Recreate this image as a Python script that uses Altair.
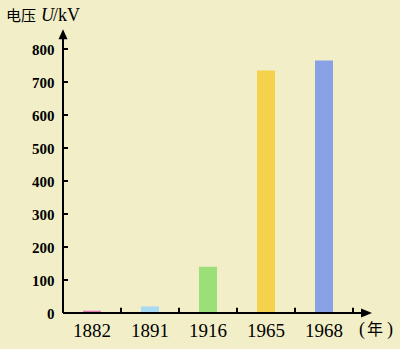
import altair as alt
import pandas as pd

years = ["1882", "1891", "1916", "1965", "1968"]
voltages = [7, 20, 140, 735, 765]
bar_colors = ["#e07ab4", "#a8dbf2", "#9cdf78", "#f6d24c", "#88a2e5"]
y_ticks = [0, 100, 200, 300, 400, 500, 600, 700, 800]

W, H = 290, 264
SERIF = "Liberation Serif"
CJK = "Noto Sans CJK SC"

df = pd.DataFrame({"year": years, "voltage": voltages})
tick_df = pd.DataFrame({"v": y_ticks})
one = pd.DataFrame({"k": [0]})

xs = alt.Scale(domain=years, paddingInner=0, paddingOuter=0)
ys = alt.Scale(domain=[0, 800], nice=False, zero=True)

x_axis = alt.Axis(title=None, ticks=False, tickSize=0, domain=False, grid=False,
                  labelPadding=8, labelFont=SERIF, labelFontSize=19,
                  labelColor="black", labelAngle=0)
y_axis = alt.Axis(title=None, values=y_ticks, ticks=False, tickSize=0, domain=False,
                  grid=False, labelPadding=9, labelFont=SERIF, labelFontSize=15,
                  labelFontWeight="bold", labelColor="black")

bars = alt.Chart(df).mark_bar(size=18).encode(
    x=alt.X("year:N", scale=xs, sort=years, axis=x_axis),
    y=alt.Y("voltage:Q", scale=ys, axis=y_axis),
    color=alt.Color("year:N", scale=alt.Scale(domain=years, range=bar_colors), legend=None),
)

# axis lines
y_line = alt.Chart(one).mark_rule(color="black", strokeWidth=2).encode(
    x=alt.value(0), y=alt.YDatum(0, scale=ys, axis=y_axis), y2=alt.datum(830))
x_line = alt.Chart(one).mark_rule(color="black", strokeWidth=2).encode(
    x=alt.value(0), x2=alt.value(300), y=alt.YDatum(0, scale=ys, axis=y_axis))

# inward ticks
y_tick_marks = alt.Chart(tick_df).mark_rule(color="black", strokeWidth=2).encode(
    y=alt.Y("v:Q", scale=ys, axis=y_axis), x=alt.value(0), x2=alt.value(5))
x_tick_marks = alt.Chart(df).mark_rule(color="black", strokeWidth=2).encode(
    x=alt.X("year:N", scale=xs, sort=years, bandPosition=1, axis=x_axis),
    y=alt.YDatum(0, scale=ys, axis=y_axis), y2=alt.datum(16))

# arrow heads
y_arrow = alt.Chart(one).mark_point(shape="M0,-1L0.9,1L-0.9,1Z", filled=True, size=100,
                                    color="black", opacity=1).encode(
    x=alt.value(0), y=alt.YDatum(845, scale=ys, axis=y_axis))
x_arrow = alt.Chart(one).mark_point(shape="M1,0L-1,-0.8L-1,0.8Z", filled=True, size=121,
                                    color="black", opacity=1).encode(
    x=alt.value(303.5), y=alt.YDatum(0, scale=ys, axis=y_axis))

# axis titles
t1 = alt.Chart(one).mark_text(text="电压", font=CJK, fontSize=15, align="left",
                              baseline="alphabetic", color="black").encode(
    x=alt.value(-57), y=alt.value(-28))
t2 = alt.Chart(one).mark_text(text="U", font=SERIF, fontSize=18, fontStyle="italic",
                              align="left", baseline="alphabetic", color="black").encode(
    x=alt.value(-22), y=alt.value(-28))
t3 = alt.Chart(one).mark_text(text="/kV", font=SERIF, fontSize=18, align="left",
                              baseline="alphabetic", color="black").encode(
    x=alt.value(-10), y=alt.value(-28))
t4a = alt.Chart(one).mark_text(text="(", font=SERIF, fontSize=18, align="left",
                               baseline="middle", color="black").encode(
    x=alt.value(296), y=alt.value(281))
t4b = alt.Chart(one).mark_text(text="年", font=CJK, fontSize=16, align="left",
                               baseline="middle", color="black").encode(
    x=alt.value(304), y=alt.value(281))
t4c = alt.Chart(one).mark_text(text=")", font=SERIF, fontSize=18, align="left",
                               baseline="middle", color="black").encode(
    x=alt.value(324), y=alt.value(281))

chart = alt.layer(
    bars, y_line, x_line, y_tick_marks, x_tick_marks, y_arrow, x_arrow,
    t1, t2, t3, t4a, t4b, t4c
).properties(
    width=W, height=H,
    autosize=alt.AutoSizeParams(type="none"),
    padding={"left": 63, "top": 49, "right": 47, "bottom": 36},
    background="#f2efc8",
).configure_view(stroke=None)

chart.save("out.html", embed_options={"renderer": "svg", "actions": False})
